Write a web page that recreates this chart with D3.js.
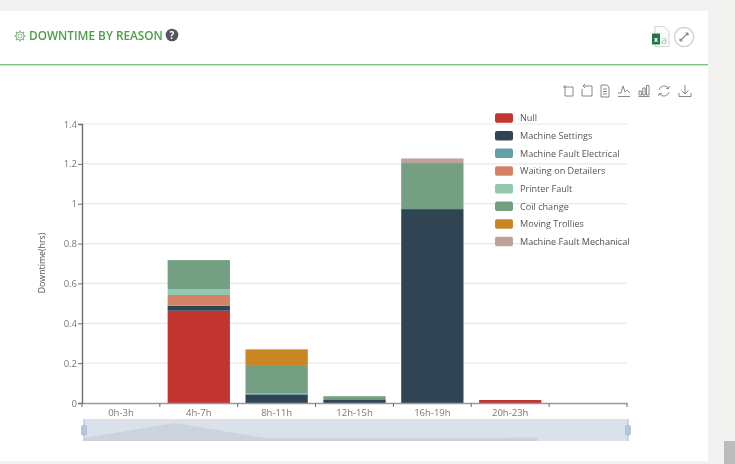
<!DOCTYPE html>
<html>
<head>
<meta charset="utf-8">
<script src="https://cdn.jsdelivr.net/npm/d3@7"></script>
<style>
  html, body { margin: 0; padding: 0; background: #f2f2f0; overflow: hidden; }
  text { font-family: "Open Sans", sans-serif; }
  svg { display: block; filter: blur(0.35px); }
</style>
</head>
<body>
<svg id="chart" width="735" height="464"></svg>
<script>
const categories = ["0h-3h", "4h-7h", "8h-11h", "12h-15h", "16h-19h", "20h-23h", ""];
const yTicks = [0, 0.2, 0.4, 0.6, 0.8, 1, 1.2, 1.4];
const seriesNames = ["Null", "Machine Settings", "Machine Fault Electrical", "Waiting on Detailers",
  "Printer Fault", "Coil change", "Moving Trollies", "Machine Fault Mechanical"];
const seriesColors = ["#c23531", "#2f4554", "#61a0a8", "#d48265", "#91c7ae", "#749f83", "#ca8622", "#bda29a"];

const nullHours = [0, 0.463, 0, 0, 0, 0.015, 0];
const machineSettings = [0, 0.025, 0.043, 0.018, 0.973, 0, 0];
const faultElectrical = [0, 0, 0.005, 0.002, 0, 0, 0];
const waitingDetailers = [0, 0.054, 0, 0, 0, 0, 0];
const printerFault = [0, 0.028, 0, 0, 0, 0, 0];
const coilChange = [0, 0.147, 0.138, 0.014, 0.231, 0, 0];
const movingTrollies = [0, 0, 0.083, 0, 0, 0, 0];
const faultMechanical = [0, 0, 0, 0, 0.023, 0, 0];

const seriesValues = [nullHours, machineSettings, faultElectrical, waitingDetailers,
  printerFault, coilChange, movingTrollies, faultMechanical];

const rows = categories.map((c, i) => {
  const row = { category: c, index: i };
  seriesNames.forEach((n, s) => { row[n] = seriesValues[s][i]; });
  return row;
});

const svg = d3.select("#chart");

// card
svg.append("rect").attr("x", 0).attr("y", 11).attr("width", 708).attr("height", 450).attr("fill", "#fff");
svg.append("rect").attr("x", 0).attr("y", 64).attr("width", 708).attr("height", 1.4).attr("fill", "#7cc47f");
// scrollbar thumb
svg.append("rect").attr("x", 724).attr("y", 441).attr("width", 11).attr("height", 23).attr("fill", "#bcbcbc");

// header
svg.append("text").attr("x", 29).attr("y", 40.3).attr("font-size", 11.8).attr("font-weight", 600)
  .attr("fill", "#4b9e45").text("DOWNTIME BY REASON");

const gear = svg.append("g").attr("transform", "translate(20,36)").attr("fill", "none").attr("stroke", "#7fb37b");
gear.append("circle").attr("r", 2).attr("stroke-width", 0.8);
gear.append("circle").attr("r", 4).attr("stroke-width", 0.9);
d3.range(8).forEach(i => {
  gear.append("line").attr("x1", 0).attr("y1", -4).attr("x2", 0).attr("y2", -5.6)
    .attr("stroke-width", 1.5).attr("transform", `rotate(${i * 45})`);
});

const help = svg.append("g").attr("transform", "translate(172,35)");
help.append("circle").attr("r", 6.3).attr("fill", "#55555a");
help.append("text").attr("y", 3.6).attr("text-anchor", "middle").attr("font-size", 10)
  .attr("font-weight", 700).attr("fill", "#fff").text("?");

// excel icon
const xl = svg.append("g").attr("transform", "translate(652,26)");
xl.append("path").attr("d", "M3,0.5 H12 L17,5.5 V20.5 H3 Z").attr("fill", "#fbfbfb").attr("stroke", "#d4d4d4");
xl.append("rect").attr("x", 0).attr("y", 7.5).attr("width", 8).attr("height", 11).attr("fill", "#1f7a4a");
xl.append("text").attr("x", 4).attr("y", 15.5).attr("text-anchor", "middle").attr("font-size", 7)
  .attr("font-weight", 700).attr("fill", "#fff").text("x");
xl.append("text").attr("x", 12).attr("y", 18).attr("text-anchor", "middle").attr("font-size", 11)
  .attr("fill", "#8fc9a6").text("a");

// expand button
const ex = svg.append("g").attr("transform", "translate(684,37)");
ex.append("circle").attr("r", 9.6).attr("fill", "#fff").attr("stroke", "#cfcfcf").attr("stroke-width", 1.3);
ex.append("path").attr("d", "M-4,4 L4,-4 M-4,4 h2.6 M-4,4 v-2.6 M4,-4 h-2.6 M4,-4 v2.6")
  .attr("fill", "none").attr("stroke", "#888").attr("stroke-width", 1.2);

// toolbox icons
const toolIcons = [
  [569, "M-6,-4 H4 V5 H-4 V-6"],
  [587, "M-4,-5 H5 V5 H-5 V-2 M-4,-5 L-2,-7 M-4,-5 L-2,-3"],
  [605, "M-4,-6 H2 L4,-4 V6 H-4 Z M-2,-2 H2 M-2,0.5 H2 M-2,3 H2"],
  [624, "M-6,5.5 H6 M-6,2 L-3,2 L-1,-5 L1,1 L3,-1 L6,2"],
  [644, "M-5.5,5.5 H5.5 M-5,4 V0 H-2.5 V4 Z M-1.2,4 V-3 H1.2 V4 Z M2.5,4 V-5.5 H5 V4 Z"],
  [664, "M-5,-1 A5.2,5.2 0 0 1 4.6,-2.5 M5,1 A5.2,5.2 0 0 1 -4.6,2.5 M4.6,-2.5 L5.5,-5 M4.6,-2.5 L2,-2.8 M-4.6,2.5 L-5.5,5 M-4.6,2.5 L-2,2.8"],
  [685, "M0,-6 V3 M-3.5,-0.5 L0,3 L3.5,-0.5 M-6,2 L-6,5.5 H6 V2"]
];
svg.append("g").selectAll("path").data(toolIcons).join("path")
  .attr("transform", d => `translate(${d[0]},91)`)
  .attr("d", d => d[1])
  .attr("fill", "none").attr("stroke", "#7c7c7c").attr("stroke-width", 0.9);

// scales
const x = d3.scaleBand().domain(categories).range([82, 627]).paddingInner(0.2).paddingOuter(0.1);
const y = d3.scaleLinear().domain([0, 1.4]).range([403, 124]);
const step = x.step();

// gridlines
svg.append("g").selectAll("line").data(yTicks.slice(1)).join("line")
  .attr("x1", 82).attr("x2", 627)
  .attr("y1", d => y(d)).attr("y2", d => y(d))
  .attr("stroke", "#e8e8e8").attr("stroke-width", 1.2);

// stacked bars
const stacked = d3.stack().keys(seriesNames)(rows);
svg.append("g").selectAll("g").data(stacked).join("g")
  .attr("fill", (d, i) => seriesColors[i])
  .selectAll("rect").data(d => d.filter(p => p[1] > p[0])).join("rect")
  .attr("x", d => x(d.data.category))
  .attr("width", x.bandwidth())
  .attr("y", d => y(d[1]))
  .attr("height", d => y(d[0]) - y(d[1]));

// y axis
const yAxis = svg.append("g").attr("transform", "translate(82,0)")
  .call(d3.axisLeft(y).tickValues(yTicks).tickSize(4).tickFormat(d => String(d)));
yAxis.select(".domain").attr("stroke", "#6e6e6e").attr("stroke-width", 1.4);
yAxis.selectAll(".tick line").attr("stroke", "#6e6e6e");
yAxis.selectAll(".tick text").attr("font-family", "Open Sans").attr("font-size", 9.5).attr("fill", "#777").attr("x", -5);

svg.append("text")
  .attr("transform", "translate(45,263) rotate(-90)")
  .attr("text-anchor", "middle").attr("font-size", 8.8).attr("fill", "#555")
  .text("Downtime(hrs)");

// x axis, ticks sit on the band edges
const xAxis = svg.append("g").attr("transform", "translate(0,403)")
  .call(d3.axisBottom(x).tickSize(0).tickPadding(6));
xAxis.select(".domain").attr("stroke", "#9a9a9a").attr("stroke-width", 1.3);
xAxis.selectAll(".tick text").attr("font-family", "Open Sans").attr("font-size", 9.5).attr("fill", "#777");
svg.append("g").selectAll("line").data(d3.range(categories.length + 1)).join("line")
  .attr("x1", i => 82 + i * step).attr("x2", i => 82 + i * step)
  .attr("y1", 403).attr("y2", 407)
  .attr("stroke", "#6e6e6e");

// legend
const legend = svg.append("g").selectAll("g").data(seriesNames).join("g")
  .attr("transform", (d, i) => `translate(495,${118 + i * 17.65})`);
legend.append("rect").attr("y", -4.7).attr("width", 18).attr("height", 9.5).attr("rx", 2)
  .attr("fill", (d, i) => seriesColors[i]);
legend.append("text").attr("x", 25).attr("y", 3.3).attr("font-size", 9.1).attr("fill", "#555").text(d => d);

// data zoom slider, shadow drawn from the first series
const zoomX = d3.scalePoint().domain(categories.slice(0, 6)).range([84, 538]);
const zoomY = d3.scaleLinear().domain([0, 0.463]).range([438, 423]);
svg.append("rect").attr("x", 84).attr("y", 419).attr("width", 544).attr("height", 22).attr("fill", "#dbe1eb");
svg.append("path")
  .datum(rows.slice(0, 6))
  .attr("fill", "#cdd3de")
  .attr("d", d3.area()
    .x(d => zoomX(d.category))
    .y0(441)
    .y1(d => zoomY(d[seriesNames[0]])));
[84, 628].forEach(hx => {
  svg.append("line").attr("x1", hx).attr("x2", hx).attr("y1", 419).attr("y2", 441)
    .attr("stroke", "#a9bcd6").attr("stroke-width", 1);
  svg.append("rect").attr("x", hx - 2.5).attr("y", 425.5).attr("width", 5).attr("height", 9.5).attr("rx", 1)
    .attr("fill", "#b4c6de").attr("stroke", "#9fb5d2").attr("stroke-width", 0.6);
});
</script>
</body>
</html>
